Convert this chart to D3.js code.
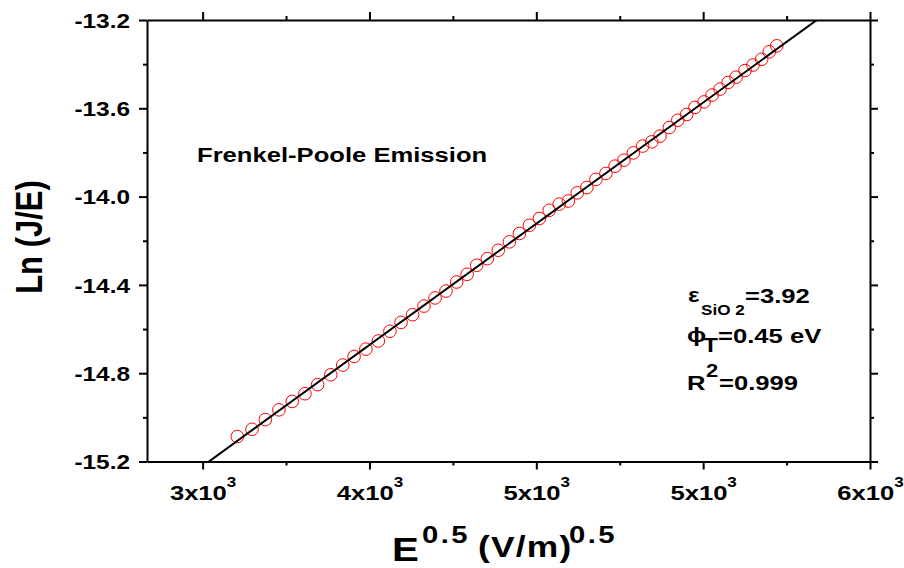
<!DOCTYPE html>
<html>
<head>
<meta charset="utf-8">
<script src="https://cdn.jsdelivr.net/npm/d3@7"></script>
<style>
body { margin: 0; background: #fff; }
text { font-family: "Liberation Sans", Arial, sans-serif; font-weight: bold; fill: #000; }
</style>
</head>
<body>
<svg id="chart" width="904" height="568"></svg>
<script>
// E^0.5 values
const sqrt_field = [3156, 3222, 3282, 3343, 3403, 3460, 3517, 3576, 3630, 3681,
                    3734, 3790, 3842, 3892, 3944, 3995, 4045, 4094, 4142, 4189,
                    4232, 4280, 4329, 4379, 4424, 4469, 4514, 4558, 4603, 4644,
                    4684, 4727, 4768, 4813, 4854, 4894, 4936, 4978, 5019, 5056,
                    5098, 5136, 5176, 5213, 5254, 5290, 5326, 5362, 5398, 5438,
                    5474, 5513, 5547, 5581];
// Ln(J/E)
const ln_je = [-15.087, -15.054, -15.010, -14.966, -14.928, -14.893, -14.852, -14.807, -14.763, -14.724,
               -14.691, -14.654, -14.610, -14.570, -14.535, -14.496, -14.459, -14.428, -14.387, -14.352,
               -14.311, -14.281, -14.243, -14.205, -14.167, -14.130, -14.099, -14.062, -14.034, -14.020,
               -13.983, -13.959, -13.922, -13.895, -13.862, -13.835, -13.802, -13.771, -13.752, -13.726,
               -13.687, -13.654, -13.628, -13.596, -13.571, -13.540, -13.513, -13.483, -13.459, -13.429,
               -13.404, -13.378, -13.344, -13.317];

// linear fit
const fit_slope = 7.32e-4;
const fit_intercept = -17.417;

const x_ticks = [3000, 3750, 4500, 5250, 6000];
const x_minor = [3375, 4125, 4875, 5625];
const y_ticks = [-13.2, -13.6, -14.0, -14.4, -14.8, -15.2];
const y_minor = [-13.4, -13.8, -14.2, -14.6, -15.0];

const width = 904, height = 568;
const margin = {top: 20, right: 34, bottom: 106.5, left: 147};
const innerWidth = width - margin.left - margin.right;
const innerHeight = height - margin.top - margin.bottom;
const stretch = 1.22;   // text in the original is a bit wide

const svg = d3.select("#chart");
const g = svg.append("g")
             .attr("transform", `translate(${margin.left}, ${margin.top})`);

const xScale = d3.scaleLinear()
                 .domain([2750, 6000])
                 .range([0, innerWidth]);
const yScale = d3.scaleLinear()
                 .domain([-15.2, -13.2])
                 .range([innerHeight, 0]);

// axes: major + minor on all four sides
const style_axis = sel => {
    sel.select(".domain").attr("stroke-width", 2);
    sel.selectAll(".tick line").attr("stroke-width", 2);
};

const add_axis = (axis, transform, major, minor, labels) => {
    const a = g.append("g").attr("transform", transform)
               .call(axis.tickValues(major).tickSize(8).tickSizeOuter(0));
    if (!labels) a.selectAll(".tick text").remove();
    style_axis(a);
    const m = g.append("g").attr("transform", transform)
               .call(axis.tickValues(minor).tickSize(4).tickSizeOuter(0).tickFormat(""));
    m.select(".domain").remove();
    style_axis(m);
    return a;
};

const xBottom = add_axis(d3.axisBottom(xScale), `translate(0, ${innerHeight})`, x_ticks, x_minor, true);
add_axis(d3.axisTop(xScale), "translate(0, 0)", x_ticks, x_minor, false);
const yLeft = add_axis(d3.axisLeft(yScale).tickFormat(d => d.toFixed(1)), "translate(0, 0)", y_ticks, y_minor, true);
add_axis(d3.axisRight(yScale), `translate(${innerWidth}, 0)`, y_ticks, y_minor, false);

xBottom.selectAll(".tick text")
       .attr("font-size", 21)
       .attr("font-family", null)
       .attr("y", 0)
       .attr("dy", null)
       .attr("transform", `translate(0, 38.5) scale(${stretch}, 1)`)
       .each(function(d) {
           const t = d3.select(this);
           t.text(null);
           t.append("tspan").text(Math.round(d / 1000) + "x10");
           t.append("tspan").attr("dy", -13).attr("font-size", 14).text("3");
       });

yLeft.selectAll(".tick text")
     .attr("font-size", 20)
     .attr("font-family", null)
     .attr("x", 0)
     .attr("dy", "0.36em")
     .attr("transform", `translate(-17, 0) scale(${stretch}, 1)`);

// data
g.append("defs").append("clipPath").attr("id", "plot-clip")
 .append("rect").attr("width", innerWidth).attr("height", innerHeight);

g.append("g")
 .selectAll("circle")
 .data(sqrt_field.map((v, i) => ({x: v, y: ln_je[i]})))
 .enter()
 .append("circle")
    .attr("cx", d => xScale(d.x))
    .attr("cy", d => yScale(d.y))
    .attr("r", 6.3)
    .attr("fill", "none")
    .attr("stroke", "#ff0000")
    .attr("stroke-width", 1);

const fit = xScale.domain().map(v => ({x: v, y: fit_intercept + fit_slope * v}));
g.append("path")
 .datum(fit)
 .attr("clip-path", "url(#plot-clip)")
 .attr("fill", "none")
 .attr("stroke", "#000")
 .attr("stroke-width", 2)
 .attr("d", d3.line().x(d => xScale(d.x)).y(d => yScale(d.y)));

// text
const label = (x, y, str, size, spacing = 0) =>
    svg.append("text")
       .attr("transform", `translate(${x}, ${y}) scale(${stretch}, 1)`)
       .attr("font-size", size)
       .attr("letter-spacing", spacing)
       .text(str);

svg.append("text")
   .attr("transform", `translate(28, 237) scale(${stretch}, 1) rotate(-90)`)
   .attr("text-anchor", "middle")
   .attr("dy", "0.36em")
   .attr("font-size", 31)
   .text("Ln (J/E)");

label(392, 561, "E", 33);
label(422, 543, "0.5", 24, 2);
label(478, 557, "(V/m)", 29, 1);
label(569, 543, "0.5", 24, 2);

label(197, 162, "Frenkel-Poole Emission", 21);

label(688, 302, "ε", 20);
label(701, 315, "SiO 2", 14);
label(745, 303, "=3.92", 21);

label(687, 342, "ϕ", 21);
label(703, 352, "T", 20);
label(718, 343, "=0.45 eV", 21);

label(687, 390, "R", 21);
label(706, 377, "2", 18);
label(719, 390, "=0.999", 21);
</script>
</body>
</html>
